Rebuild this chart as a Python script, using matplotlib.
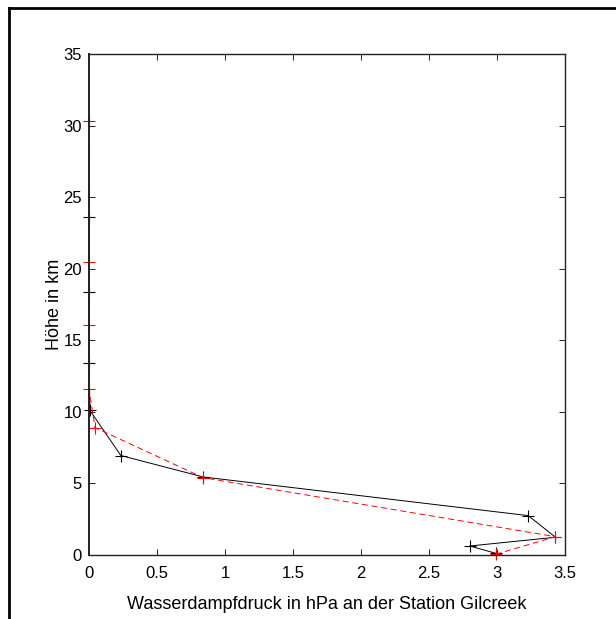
import matplotlib.pyplot as plt
from matplotlib.lines import Line2D

plt.rcParams['font.family'] = ['Liberation Sans', 'DejaVu Sans']

# black series (solid)
p_black = [2.99, 2.80, 3.43, 3.23, 0.84, 0.234, 0.007, 0.0, 0.0, 0.0]
h_black = [0.12, 0.63, 1.24, 2.75, 5.45, 6.95, 10.1, 13.4, 18.4, 23.6]

# red series (dashed)
p_red = [2.99, 3.43, 0.84, 0.044, 0.0, 0.0, 0.0, 0.0]
h_red = [0.05, 1.28, 5.4, 8.9, 11.6, 16.1, 20.5, 30.3]

xticks = [0, 0.5, 1, 1.5, 2, 2.5, 3, 3.5]
yticks = [0, 5, 10, 15, 20, 25, 30, 35]

fig = plt.figure(figsize=(6.16, 6.19), dpi=100)
ax = fig.add_axes([89 / 616, 1 - 555 / 619, 476 / 616, 501 / 619])

ax.plot(p_black, h_black, '-', color='black', lw=0.7, marker='+',
        ms=9, mew=0.8, clip_on=False, zorder=2)
ax.plot(p_red, h_red, '--', color='red', lw=0.7, marker='+',
        ms=9, mew=0.8, dashes=(6, 4), clip_on=False, zorder=2.2)

ax.set_xlim(0, 3.5)
ax.set_ylim(0, 35)
ax.set_xticks(xticks)
ax.set_xticklabels(['0', '0.5', '1', '1.5', '2', '2.5', '3', '3.5'])
ax.set_yticks(yticks)
ax.tick_params(direction='in', length=4, width=0.6, labelsize=12,
               top=True, right=True, colors='black')
ax.tick_params(axis='x', pad=8)
ax.tick_params(axis='y', pad=5)
for s in ax.spines.values():
    s.set_linewidth(1.0)
    s.set_color('#222222')
    s.set_zorder(3)
ax.spines['left'].set_linewidth(1.4)

ax.set_xlabel('Wasserdampfdruck in hPa an der Station Gilcreek', fontsize=13, labelpad=11)
ax.set_ylabel('Höhe in km', fontsize=13, labelpad=0)

# figure frame (left and top edges visible)
fig.add_artist(Line2D([9 / 616, 9 / 616], [0, 1 - 8 / 619], color='black', lw=2,
                      transform=fig.transFigure))
fig.add_artist(Line2D([9 / 616, 1], [1 - 8 / 619, 1 - 8 / 619], color='black', lw=2,
                      transform=fig.transFigure))

fig.savefig('out.png', dpi=100)
